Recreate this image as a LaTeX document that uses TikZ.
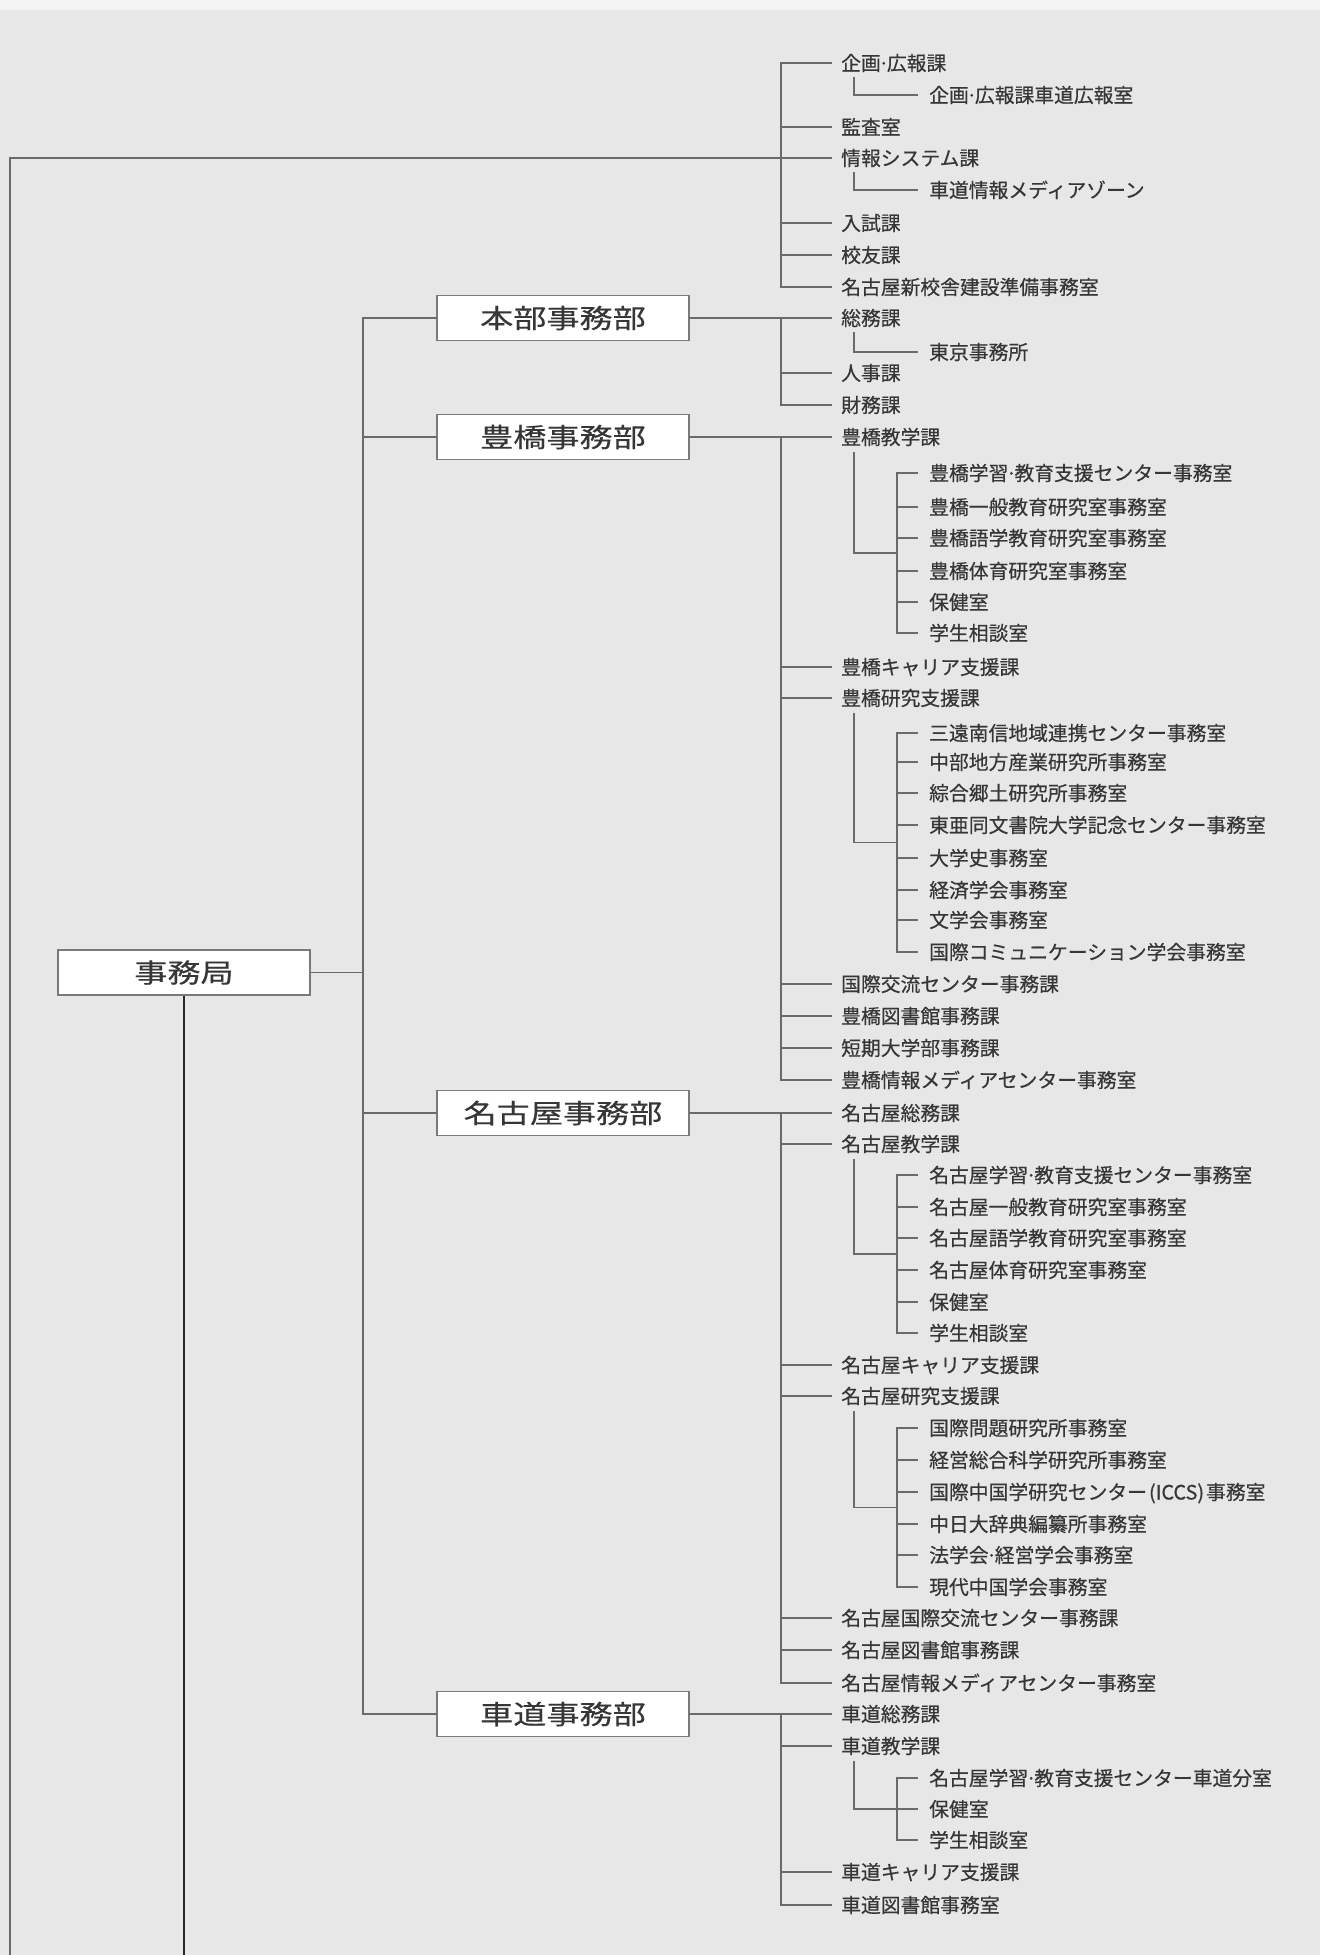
\documentclass[tikz,border=0pt]{standalone}
\usepackage{fontspec}
\newfontfamily\jp[FakeBold=0.45]{Noto Sans CJK JP}
\newfontfamily\jpwide[FakeStretch=1.25,FakeBold=0.3]{Noto Sans CJK JP}
\usetikzlibrary{calc}
\definecolor{bgc}{HTML}{E7E7E7}
\definecolor{lnc}{HTML}{6A6A6A}
\definecolor{txc}{HTML}{363636}
\definecolor{bxc}{HTML}{7A7A7A}
\newcommand{\ndot}{\kern-2.5pt·\kern-2.5pt}
\begin{document}
\begin{tikzpicture}[x=1pt,y=-1pt,
  row/.style={anchor=west,inner sep=0pt,text height=17.4pt,text depth=2.4pt,font=\jp\fontsize{19.8}{20}\selectfont,text=txc},
  box/.style={draw=bxc,line width=1.2pt,fill=white,minimum width=252pt,minimum height=45pt,inner sep=0pt,font=\jpwide\fontsize{26.5}{28}\selectfont,text=txc},
  conn/.style={draw=lnc,line width=1.3pt,line cap=rect},
  mainln/.style={draw=black!85,line width=2.2pt}]
\useasboundingbox (0,0) rectangle (1320,1955);
\fill[bgc] (0,0) rectangle (1320,1955);
\fill[white!50!bgc] (0,0) rectangle (1320,10);

% ---- rows ----
\node[row] (r1) at (841,63) {企画\ndot 広報課};
\node[row] (r2) at (929,95) {企画\ndot 広報課車道広報室};
\node[row] (r3) at (841,127) {監査室};
\node[row] (r4) at (841,158) {情報システム課};
\node[row] (r5) at (929,190) {車道情報メディアゾーン};
\node[row] (r6) at (841,223) {入試課};
\node[row] (r7) at (841,255) {校友課};
\node[row] (r8) at (841,287) {名古屋新校舎建設準備事務室};
\node[row] (r9) at (841,318) {総務課};
\node[row] (r10) at (929,352) {東京事務所};
\node[row] (r11) at (841,373) {人事課};
\node[row] (r12) at (841,405) {財務課};
\node[row] (r13) at (841,437) {豊橋教学課};
\node[row] (r14) at (929,473) {豊橋学習\ndot 教育支援センター事務室};
\node[row] (r15) at (929,507) {豊橋一般教育研究室事務室};
\node[row] (r16) at (929,538) {豊橋語学教育研究室事務室};
\node[row] (r17) at (929,571) {豊橋体育研究室事務室};
\node[row] (r18) at (929,602) {保健室};
\node[row] (r19) at (929,633) {学生相談室};
\node[row] (r20) at (841,667) {豊橋キャリア支援課};
\node[row] (r21) at (841,698) {豊橋研究支援課};
\node[row] (r22) at (929,733) {三遠南信地域連携センター事務室};
\node[row] (r23) at (929,762) {中部地方産業研究所事務室};
\node[row] (r24) at (929,793) {綜合郷土研究所事務室};
\node[row] (r25) at (929,825) {東亜同文書院大学記念センター事務室};
\node[row] (r26) at (929,858) {大学史事務室};
\node[row] (r27) at (929,890) {経済学会事務室};
\node[row] (r28) at (929,920) {文学会事務室};
\node[row] (r29) at (929,952) {国際コミュニケーション学会事務室};
\node[row] (r30) at (841,984) {国際交流センター事務課};
\node[row] (r31) at (841,1016) {豊橋図書館事務課};
\node[row] (r32) at (841,1048) {短期大学部事務課};
\node[row] (r33) at (841,1080) {豊橋情報メディアセンター事務室};
\node[row] (r34) at (841,1113) {名古屋総務課};
\node[row] (r35) at (841,1144) {名古屋教学課};
\node[row] (r36) at (929,1175) {名古屋学習\ndot 教育支援センター事務室};
\node[row] (r37) at (929,1207) {名古屋一般教育研究室事務室};
\node[row] (r38) at (929,1238) {名古屋語学教育研究室事務室};
\node[row] (r39) at (929,1270) {名古屋体育研究室事務室};
\node[row] (r40) at (929,1302) {保健室};
\node[row] (r41) at (929,1333) {学生相談室};
\node[row] (r42) at (841,1365) {名古屋キャリア支援課};
\node[row] (r43) at (841,1396) {名古屋研究支援課};
\node[row] (r44) at (929,1428) {国際問題研究所事務室};
\node[row] (r45) at (929,1460) {経営総合科学研究所事務室};
\node[row] (r46) at (929,1492) {国際中国学研究センター\kern2pt(ICCS)\kern2pt 事務室};
\node[row] (r47) at (929,1524) {中日大辞典編纂所事務室};
\node[row] (r48) at (929,1555) {法学会\ndot 経営学会事務室};
\node[row] (r49) at (929,1587) {現代中国学会事務室};
\node[row] (r50) at (841,1618) {名古屋国際交流センター事務課};
\node[row] (r51) at (841,1650) {名古屋図書館事務課};
\node[row] (r52) at (841,1683) {名古屋情報メディアセンター事務室};
\node[row] (r53) at (841,1714) {車道総務課};
\node[row] (r54) at (841,1746) {車道教学課};
\node[row] (r55) at (929,1778) {名古屋学習\ndot 教育支援センター車道分室};
\node[row] (r56) at (929,1809) {保健室};
\node[row] (r57) at (929,1840) {学生相談室};
\node[row] (r58) at (841,1872) {車道キャリア支援課};
\node[row] (r59) at (841,1905) {車道図書館事務室};

% ---- boxes ----
\node[box] (jm) at (184,972.5) {事務局};
\node[box] (hb) at (563,318) {本部事務部};
\node[box] (tb) at (563,437) {豊橋事務部};
\node[box] (ny) at (563,1113) {名古屋事務部};
\node[box] (sd) at (563,1714) {車道事務部};

% ---- helper coordinates ----
\coordinate (bot) at (0,1955);
\coordinate (ll) at (10,1955);
\coordinate (lb) at (363,0);
\coordinate (bA) at (781,0);
\coordinate (svx) at (854,0);
\coordinate (sbx) at (897,0);

% ---- main structure ----
\draw[mainln] (jm.south) -- (jm.south |- bot);
\draw[conn] (ll) |- ([xshift=-10pt]r4.west);
\draw[conn] (jm.east) -- (lb |- jm.east);
\draw[conn] (lb |- hb.west) -- (lb |- sd.west);
\foreach \b in {hb,tb,ny,sd} \draw[conn] (lb |- \b.west) -- (\b.west);
\draw[conn] (hb.east |- r9.west) -- ([xshift=-10pt]r9.west);
\draw[conn] (tb.east |- r13.west) -- ([xshift=-10pt]r13.west);
\draw[conn] (ny.east |- r34.west) -- ([xshift=-10pt]r34.west);
\draw[conn] (sd.east |- r53.west) -- ([xshift=-10pt]r53.west);

% ---- level-1 buses ----
\draw[conn] (bA |- r1.west) -- (bA |- r8.west);
\foreach \i in {1,3,6,7,8} \draw[conn] (bA |- r\i.west) -- ([xshift=-10pt]r\i.west);
\draw[conn] (bA |- r9.west) -- (bA |- r12.west);
\foreach \i in {11,12} \draw[conn] (bA |- r\i.west) -- ([xshift=-10pt]r\i.west);
\draw[conn] (bA |- r13.west) -- (bA |- r33.west);
\foreach \i in {20,21,30,31,32,33} \draw[conn] (bA |- r\i.west) -- ([xshift=-10pt]r\i.west);
\draw[conn] (bA |- r34.west) -- (bA |- r52.west);
\foreach \i in {35,42,43,50,51,52} \draw[conn] (bA |- r\i.west) -- ([xshift=-10pt]r\i.west);
\draw[conn] (bA |- r53.west) -- (bA |- r59.west);
\foreach \i in {54,58,59} \draw[conn] (bA |- r\i.west) -- ([xshift=-10pt]r\i.west);

% ---- single sub-items (L shapes) ----
\draw[conn] ($(svx |- r1.south)+(0,5)$) |- ([xshift=-12pt]r2.west);
\draw[conn] ($(svx |- r4.south)+(0,5)$) |- ([xshift=-12pt]r5.west);
\draw[conn] ($(svx |- r9.south)+(0,5)$) |- ([xshift=-12pt]r10.west);

% ---- sub-groups ----
\foreach \p/\f/\l in {13/14/19, 21/22/29, 35/36/41, 43/44/49, 54/55/57} {
  \coordinate (m\p) at ($(r\f.west)!0.5!(r\l.west)$);
  \draw[conn] ($(svx |- r\p.south)+(0,6)$) |- (sbx |- m\p);
  \draw[conn] (sbx |- r\f.west) -- (sbx |- r\l.west);
}
\foreach \i in {14,...,19,22,23,24,25,26,27,28,29,36,37,38,39,40,41,44,45,46,47,48,49,55,56,57}
  \draw[conn] (sbx |- r\i.west) -- ([xshift=-12pt]r\i.west);
\end{tikzpicture}
\end{document}
